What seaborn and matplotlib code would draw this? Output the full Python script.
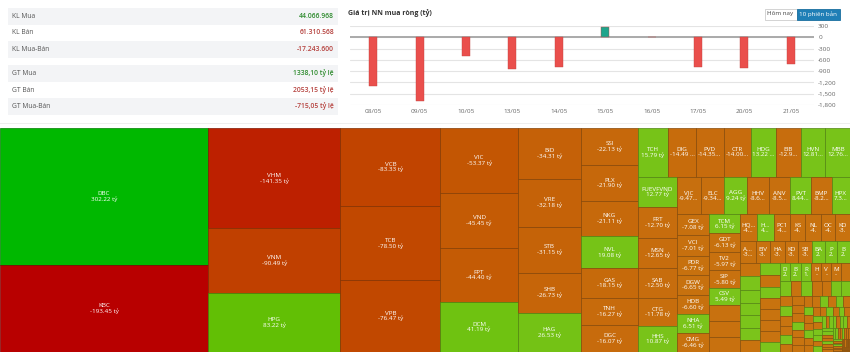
import matplotlib
matplotlib.use("Agg")
import matplotlib.pyplot as plt
import seaborn as sns
import numpy as np
from matplotlib.patches import Rectangle

# Summary table
table_labels = ["KL Mua", "KL Bán", "KL Mua-Bán", "GT Mua", "GT Bán", "GT Mua-Bán"]
table_values = ["44.066.968", "61.310.568", "-17.243.600", "1338,10 tỷ lệ", "2053,15 tỷ lệ", "-715,05 tỷ lệ"]
table_colors = ["#2e8b2e", "#b5403c", "#b5403c", "#2e8b2e", "#b5403c", "#b5403c"]

# Net foreign buying per session
dates = ["08/05", "09/05", "10/05", "13/05", "14/05", "15/05", "16/05", "17/05", "20/05", "21/05"]
net_buy = [-1290, -1695, -500, -850, -800, 280, 0, -790, -825, -720]
y_ticks = [300, 0, -300, -600, -900, -1200, -1500, -1800]

# Treemap cells, largest first
tickers = ["DBC", "KBC", "VHM", "VNM", "HPG", "VCB", "TCB", "VPB", "VIC", "VND", "FPT", "DCM",
           "BID", "VRE", "STB", "SHB", "HAG", "SSI", "PLX", "NKG", "NVL", "GAS", "TNH", "DGC",
           "TCH", "DIG", "PVD", "CTR", "HDG", "EIB", "HVN", "MBB",
           "FUEVFVND", "FRT", "MSN", "SAB", "CTG", "HHS",
           "VJC", "ELC", "AGG", "HHV", "ANV", "PVT", "BMP", "HPX",
           "GEX", "VCI", "PDR", "DGW", "HDB", "NHA", "CMG",
           "TCM", "GDT", "TV2", "SIP", "CSV", "", "", "",
           "HQ...", "H...", "PC1", "KS", "NL", "OC", "KD",
           "A...", "EIV", "HA", "KD", "SB", "BA", "P", "B",
           "", "", "", "", "", "", "",
           "", "", "", "", "", "", "", "",
           "D", "B", "R", "H", "V", "M", ""]
value_text = ["302.22 tỷ", "-193.45 tỷ", "-141.35 tỷ", "-90.49 tỷ", "83.22 tỷ", "-83.33 tỷ", "-78.50 tỷ", "-76.47 tỷ",
              "-53.37 tỷ", "-45.45 tỷ", "-44.40 tỷ", "41.19 tỷ",
              "-34.31 tỷ", "-32.18 tỷ", "-31.15 tỷ", "-26.73 tỷ", "26.53 tỷ",
              "-22.13 tỷ", "-21.90 tỷ", "-21.11 tỷ", "19.08 tỷ", "-18.15 tỷ", "-16.27 tỷ", "-16.07 tỷ",
              "15.79 tỷ", "-14.49 ...", "-14.35...", "-14.00...", "13.22 ...", "-12.9...", "12.81...", "12.76...",
              "12.77 tỷ", "-12.70 tỷ", "-12.65 tỷ", "-12.50 tỷ", "-11.78 tỷ", "10.87 tỷ",
              "-9.47...", "-9.34...", "9.24 tỷ", "-8.6...", "-8.5...", "8.44...", "-8.2...", "7.3...",
              "-7.08 tỷ", "-7.01 tỷ", "-6.77 tỷ", "-6.65 tỷ", "-6.60 tỷ", "6.51 tỷ", "-6.46 tỷ",
              "6.15 tỷ", "-6.13 tỷ", "-5.97 tỷ", "-5.80 tỷ", "5.49 tỷ", "", "", "",
              "-4...", "4...", "-4...", "-4.", "-4.", "-4.", "-3.",
              "-3...", "-3.", "-3.", "-3.", "-3.", "2.", "2.", "2.",
              "", "", "", "", "", "", "",
              "", "", "", "", "", "", "", "",
              "2.", "2.", "1.", "-", "-", "-", ""]
net_values = [302.22, -193.45, -141.35, -90.49, 83.22, -83.33, -78.50, -76.47, -53.37, -45.45, -44.40, 41.19,
              -34.31, -32.18, -31.15, -26.73, 26.53, -22.13, -21.90, -21.11, 19.08, -18.15, -16.27, -16.07,
              15.79, -14.49, -14.35, -14.00, 13.22, -12.90, 12.81, 12.78,
              12.77, -12.70, -12.65, -12.50, -11.78, 10.87,
              -9.47, -9.34, 9.24, -8.60, -8.50, 8.44, -8.20, 7.30,
              -7.08, -7.01, -6.77, -6.65, -6.60, 6.51, -6.46,
              6.15, -6.13, -5.97, -5.80, 5.49, -5.20, -5.10, -5.00,
              -4.80, 4.70, -4.60, -4.40, -4.30, -4.20, -4.10,
              -3.65, -3.45, -3.35, -3.25, -3.15, 3.05, 2.95, 2.93,
              -2.85, 2.80, 2.75, 2.70, 2.65, 2.60, -2.55,
              2.50, -2.45, 2.40, -2.35, -2.30, -2.25, -2.20, 2.15,
              2.10, 2.05, 2.00, -1.95, -1.90, -1.85, -1.80]
# Unlabelled tail of the map
tail_values = [1.75, -1.70, 1.65, -1.60, -1.55, 1.50, 1.45,
               -1.40, 1.35, -1.30, -1.25, 1.20, -1.15,
               -1.10, -1.08, -1.05, 1.00, -0.98, -0.95, -0.92,
               -0.90, -0.88, 0.86, -0.84, 0.82, -0.80,
               0.78, -0.76, -0.74, 0.72, -0.70, -0.68,
               -0.66, -0.64, 0.62, -0.60, 0.58, -0.56,
               0.55, -0.54, 0.53, 0.52, -0.50, 0.49,
               0.48, -0.47, 0.46, 0.45, -0.44, 0.43, 0.42, -0.41,
               0.40, 0.38, -0.37, -0.36, 0.34, -0.33, -0.32, -0.30,
               0.28, 0.27, -0.26, -0.25, 0.24, -0.23, -0.22, -0.21,
               0.20, -0.19, -0.18, 0.17, -0.16, -0.15, -0.14, -0.13,
               -0.12, -0.11, -0.10, -0.09, -0.09, -0.08, -0.08, -0.07,
               -0.07, -0.06, -0.06, -0.05, -0.05, -0.04, -0.04, -0.03]
# How many cells go in each strip of the map
strip_sizes = [2, 3, 3, 4, 5, 7, 8, 6, 8, 7, 8, 7, 8, 7, 8, 7,
               7, 6, 7, 6, 6, 6, 6, 8, 8, 8, 8, 8, 8]

all_values = net_values + tail_values
all_names = tickers + [""] * len(tail_values)
all_text = value_text + [""] * len(tail_values)

sns.set_theme(style="white")
plt.rcParams["font.family"] = ["Open Sans", "DejaVu Sans"]

W, H = 850, 354
fig = plt.figure(figsize=(W / 100, H / 100), dpi=100, facecolor="white")


def px_axes(x0, y0, x1, y1):
    return fig.add_axes([x0 / W, 1 - y1 / H, (x1 - x0) / W, (y1 - y0) / H])


# Table on the left
ax_t = px_axes(0, 0, 345, 125)
ax_t.set_xlim(0, 345)
ax_t.set_ylim(125, 0)
ax_t.axis("off")
row_tops = [8, 24.5, 41, 65, 81.5, 98]
for i, top in enumerate(row_tops):
    if i % 3 != 1:
        ax_t.add_patch(Rectangle((8, top), 330, 16.5, color="#f3f4f6", lw=0))
    ax_t.text(12, top + 8.5, table_labels[i], fontsize=4.9, color="#555555", va="center")
    ax_t.text(334, top + 8.5, table_values[i], fontsize=4.9, color=table_colors[i], va="center",
              ha="right", fontweight="semibold")
ax_t.add_patch(Rectangle((0, 122.5), 345, 1.2, color="#eeeeee", lw=0))

# Bar chart on the right
ax = px_axes(350, 26, 814, 105)
signs = ["up" if v > 0 else "down" for v in net_buy]
sns.barplot(x=dates, y=net_buy, hue=signs, palette={"up": "#1fa58c", "down": "#ea4f4c"}, width=0.17,
            dodge=False, legend=False, saturation=1, edgecolor="#c24542", linewidth=0.3, zorder=3, ax=ax)
ax.set_ylim(-1800, 300)
ax.set_yticks(y_ticks)
ax.set_yticklabels([f"{t:,}" for t in y_ticks])
ax.yaxis.tick_right()
ax.tick_params(axis="both", length=0, labelsize=4.6, labelcolor="#666666", pad=3)
ax.grid(axis="y", color="#e4e4e4", lw=0.8)
ax.set_axisbelow(True)
ax.axhline(0, color="#aaaaaa", lw=1.4, zorder=2)
sns.despine(ax=ax, left=True, right=True, top=True, bottom=True)
ax.set_xlabel("")
ax.set_ylabel("")
fig.text(348 / W, 1 - 13.5 / H, "Giá trị NN mua ròng (tỷ)", fontsize=5, fontweight="bold",
         color="#333333", va="center")
ax_rule = px_axes(340, 122.5, 850, 123.7)
ax_rule.axis("off")
ax_rule.add_patch(Rectangle((0, 0), 1, 1, color="#eeeeee", lw=0, transform=ax_rule.transAxes))

# Range buttons
ax_b = px_axes(760, 4, 845, 24)
ax_b.set_xlim(760, 845)
ax_b.set_ylim(24, 4)
ax_b.axis("off")
ax_b.add_patch(Rectangle((764.5, 8.5), 32, 11, fc="white", ec="#cccccc", lw=0.6))
ax_b.add_patch(Rectangle((796.5, 8.5), 43, 11, fc="#1f7fb6", ec="#1a6f9f", lw=0.6))
ax_b.text(780.5, 14, "Hôm nay", fontsize=4.5, color="#444444", ha="center", va="center")
ax_b.text(818, 14, "10 phiên bản", fontsize=4.5, color="white", ha="center", va="center")

# Treemap
neg_cmap = sns.blend_palette(["#c87410", "#c25000", "#be2800", "#b80000"], as_cmap=True)
pos_cmap = sns.blend_palette(["#7cc41c", "#5cbe00", "#30bc00", "#00b800"], as_cmap=True)


def cell_color(v):
    if v < 0:
        return neg_cmap(min(-v / 193.45, 1.0))
    return pos_cmap(min(v / 302.22, 1.0))


def layout_cells(values, sizes, x, y, w, h):
    # each strip runs along the shorter free side
    areas = np.abs(values) * (w * h) / np.abs(values).sum()
    cells = []
    i = 0
    for n in sizes + [len(areas)]:
        row = areas[i:i + n]
        if len(row) == 0:
            break
        i += n
        across = w <= h
        thick = row.sum() / (w if across else h)
        pos = 0
        for a in row:
            length = a / thick
            if across:
                cells.append((x + pos, y, length, thick))
            else:
                cells.append((x, y + pos, thick, length))
            pos += length
        if across:
            y += thick
            h -= thick
        else:
            x += thick
            w -= thick
    return cells


ax_m = px_axes(0, 128, 850, 352)
ax_m.set_xlim(0, 850)
ax_m.set_ylim(224, 0)
ax_m.axis("off")
cells = layout_cells(np.array(all_values), strip_sizes, 0, 0, 850, 224)
for (cx, cy, cw, ch), v, name, txt in zip(cells, all_values, all_names, all_text):
    c = cell_color(v)
    edge = tuple(0.68 * k for k in c[:3])
    ax_m.add_patch(Rectangle((cx, cy), cw, ch, fc=c, ec=edge, lw=0.5))
    if name or txt:
        ax_m.text(cx + cw / 2, cy + ch / 2, f"{name}\n{txt}", fontsize=4.5, color="white",
                  ha="center", va="center", linespacing=1.0)

fig.savefig("out.png", dpi=100)
